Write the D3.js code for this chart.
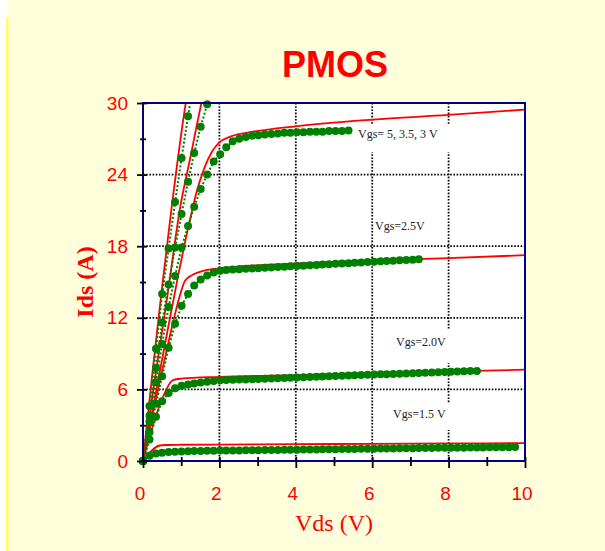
<!DOCTYPE html>
<html>
<head>
<meta charset="utf-8">
<script src="https://cdn.jsdelivr.net/npm/d3@7"></script>
<style>
  body { margin: 0; background: #fff; }
  svg { display: block; }
</style>
</head>
<body>
<svg id="chart"></svg>
<script>
// measured Vds steps (V)
const vds = [0, 0.17, 0.34, 0.50, 0.67, 0.84, 1.01, 1.18, 1.34, 1.51, 1.68, 1.85, 2.02, 2.18, 2.35, 2.52, 2.69, 2.86, 3.02, 3.19,
             3.36, 3.53, 3.70, 3.86, 4.03, 4.20, 4.37, 4.54, 4.70, 4.87, 5.04, 5.21, 5.38, 5.54, 5.71, 5.88, 6.05, 6.22, 6.38, 6.55,
             6.72, 6.89, 7.06, 7.22, 7.39, 7.56, 7.73, 7.90, 8.06, 8.23, 8.40, 8.57, 8.74, 8.90, 9.07, 9.24, 9.41, 9.58, 9.74]

// measured Ids (A), one value per vds step
const meas5 = [0, 4.6, 9.4, 14.0, 17.8, 21.7, 25.4, 28.9, 32.2]
const meas35 = [0, 3.8, 7.8, 11.6, 14.8, 17.9, 20.7, 23.4, 25.8, 28.0, 29.9, 31.6]
const meas3 = [0, 3.3, 6.6, 9.8, 12.9, 15.5, 17.9, 19.7, 21.3, 22.8, 24.0, 25.1, 25.7, 26.3, 26.8, 27.0, 27.15, 27.25, 27.3, 27.35,
               27.4, 27.45, 27.5, 27.5, 27.55, 27.55, 27.6, 27.6, 27.6, 27.65, 27.65, 27.65, 27.7]
const meas25 = [0, 2.4, 4.8, 7.1, 9.5, 11.5, 13.0, 14.0, 14.7, 15.2, 15.55, 15.8, 15.95,
                16.00, 16.04, 16.07, 16.10, 16.13, 16.16, 16.19, 16.22, 16.25, 16.28,
                16.31, 16.34, 16.37, 16.40, 16.43, 16.46, 16.49, 16.52, 16.55, 16.58,
                16.61, 16.64, 16.67, 16.70, 16.73, 16.76, 16.79, 16.82, 16.85, 16.87, 16.90]
const meas20 = [0, 1.8, 3.7, 5.0, 5.7, 6.1, 6.3, 6.42, 6.5, 6.58, 6.64, 6.7, 6.76,
                6.78, 6.80, 6.82, 6.84, 6.86, 6.88, 6.90, 6.92, 6.94, 6.96,
                6.98, 7.00, 7.02, 7.04, 7.06, 7.08, 7.10, 7.12, 7.14, 7.16,
                7.18, 7.20, 7.22, 7.24, 7.26, 7.28, 7.30, 7.32, 7.34, 7.36,
                7.38, 7.40, 7.42, 7.44, 7.46, 7.48, 7.50, 7.52, 7.54, 7.55]
const meas15 = [0, 0.45, 0.62, 0.70, 0.75, 0.78, 0.80, 0.82, 0.83, 0.84, 0.85, 0.86, 0.87,
                0.88, 0.88, 0.89, 0.90, 0.90, 0.91, 0.92, 0.92, 0.93, 0.94,
                0.94, 0.95, 0.96, 0.96, 0.97, 0.98, 0.98, 0.99, 1.00, 1.00,
                1.01, 1.02, 1.02, 1.03, 1.04, 1.04, 1.05, 1.06, 1.06, 1.07,
                1.08, 1.08, 1.09, 1.10, 1.10, 1.11, 1.12, 1.12, 1.13, 1.14,
                1.14, 1.15, 1.15, 1.16, 1.16, 1.17]

// simulated curves [Vds, Ids]
const model5 = [[0, 0], [0.25, 7.5], [0.49, 14.3], [0.74, 21], [1.12, 30], [1.2, 31.5]]
const model35 = [[0, 0], [0.3, 6.6], [0.66, 14.3], [0.96, 21], [1.25, 25.6], [1.53, 30], [1.6, 31]]
const model3 = [[0, 0], [0.3, 5.1], [0.6, 10.2], [0.9, 15.2], [1.2, 19.8], [1.4, 22.5], [1.6, 24.5], [1.8, 25.9],
                [2.0, 26.7], [2.3, 27.2], [2.8, 27.55], [4, 28.05], [6, 28.6], [8, 29.0], [10, 29.45]]
const model25 = [[0, 0], [0.2, 3.1], [0.4, 6.1], [0.6, 9.0], [0.8, 11.8], [0.95, 13.7], [1.1, 15.1], [1.3, 15.6],
                 [1.6, 15.95], [2, 16.15], [2.5, 16.3], [3, 16.4], [4, 16.55], [6, 16.8], [8, 17.0], [10, 17.25]]
const model20 = [[0, 0], [0.15, 1.8], [0.3, 3.4], [0.45, 4.8], [0.6, 5.9], [0.72, 6.6], [0.8, 6.8], [1, 6.9],
                 [2, 7.05], [4, 7.2], [6, 7.35], [8, 7.5], [10, 7.65]]
const model15 = [[0, 0], [0.44, 1.3], [0.6, 1.34], [1, 1.36], [2, 1.38], [4, 1.41], [6, 1.44], [8, 1.47], [10, 1.5]]

const xTicks = [0, 2, 4, 6, 8, 10]
const xMinor = [1, 3, 5, 7, 9]
const yTicks = [0, 6, 12, 18, 24, 30]
const yMinor = [3, 9, 15, 21, 27]

const labels = [
  {text: 'Vgs= 5, 3.5, 3 V', x: 358, y: 138, box: [352, 125, 103, 27]},
  {text: 'Vgs=2.5V', x: 375, y: 230, box: null},
  {text: 'Vgs=2.0V', x: 396, y: 346, box: [390, 330, 63, 33]},
  {text: 'Vgs=1.5 V', x: 393, y: 418, box: [388, 403, 65, 27]}
]

const w = 605
const h = 551
const pL = 143, pR = 525, pT = 103, pB = 461

const sans = '"Liberation Sans", Arial, sans-serif'
const serif = '"Liberation Serif", "Times New Roman", serif'

let svg = d3.select('#chart').attr('width', w).attr('height', h)

// page background
svg.append('rect').attr('x', 8).attr('y', 0).attr('width', w - 8).attr('height', h).attr('fill', '#ffffdc')
svg.append('rect').attr('x', 6).attr('y', 17).attr('width', 2.5).attr('height', h - 17).attr('fill', '#ffff66')

svg.append('text')
   .attr('x', 335).attr('y', 77)
   .attr('text-anchor', 'middle')
   .style('font-family', sans).style('font-weight', 'bold').style('font-size', '36px')
   .attr('fill', '#ff0000')
   .text('PMOS')

let x = d3.scaleLinear().domain([0, 10]).range([pL, pR])
let y = d3.scaleLinear().domain([0, 30]).range([pB, pT])

svg.append('rect')
   .attr('x', pL).attr('y', pT).attr('width', pR - pL).attr('height', pB - pT)
   .attr('fill', '#fff')

svg.append('clipPath').attr('id', 'clip')
   .append('rect').attr('x', pL).attr('y', pT).attr('width', pR - pL).attr('height', pB - pT)

// dotted grid
let grid = svg.append('g').attr('stroke', '#000').attr('stroke-width', 1.8).attr('stroke-dasharray', '1.6,1.6')
grid.selectAll('.gx').data([2, 4, 6, 8]).enter().append('line')
    .attr('x1', d => x(d)).attr('x2', d => x(d)).attr('y1', pT).attr('y2', pB)
grid.selectAll('.gy').data([6, 12, 18, 24]).enter().append('line')
    .attr('y1', d => y(d)).attr('y2', d => y(d)).attr('x1', pL).attr('x2', pR)

// label backgrounds hide the grid behind them
svg.selectAll('.lbox').data(labels.filter(d => d.box)).enter().append('rect')
   .attr('x', d => d.box[0]).attr('y', d => d.box[1]).attr('width', d => d.box[2]).attr('height', d => d.box[3])
   .attr('fill', '#fff')

let plot = svg.append('g').attr('clip-path', 'url(#clip)')

let redLine = d3.line().x(d => x(d[0])).y(d => y(d[1])).curve(d3.curveMonotoneX)
let models = [model15, model20, model25, model3, model35, model5]
plot.selectAll('.model').data(models).enter().append('path')
    .attr('d', redLine)
    .attr('fill', 'none').attr('stroke', '#ff0000').attr('stroke-width', 1.8)

let measures = [meas15, meas20, meas25, meas3, meas35, meas5].map(arr => arr.map((v, i) => [vds[i], v]))
let greenLine = d3.line().x(d => x(d[0])).y(d => y(d[1]))
plot.selectAll('.meas').data(measures).enter().append('path')
    .attr('d', greenLine)
    .attr('fill', 'none').attr('stroke', '#008000').attr('stroke-width', 2).attr('stroke-dasharray', '2,2')

let dots = svg.append('g')
measures.forEach(series => {
  dots.selectAll(null).data(series.filter(d => d[1] <= 30)).enter().append('circle')
      .attr('cx', d => x(d[0])).attr('cy', d => y(d[1])).attr('r', 4)
      .attr('fill', '#008000')
})

svg.selectAll('.lbl').data(labels).enter().append('text')
   .attr('x', d => d.x).attr('y', d => d.y)
   .style('font-family', serif).style('font-size', '12px')
   .attr('fill', '#222')
   .text(d => d.text)

// frame
svg.append('rect')
   .attr('x', pL).attr('y', pT).attr('width', pR - pL).attr('height', pB - pT)
   .attr('fill', 'none').attr('stroke', '#000080').attr('stroke-width', 2)

// axes
let xAxis = d3.axisBottom(x).tickValues(xTicks).tickSize(7).tickPadding(19).tickFormat(d3.format('d'))
let gx = svg.append('g').attr('transform', 'translate(0,' + pB + ')').call(xAxis)
gx.select('.domain').remove()
gx.selectAll('line').attr('y1', -4).attr('stroke', '#000').attr('stroke-width', 1.8)
gx.selectAll('text').attr('dx', -3.5).attr('fill', '#ff0000').style('font-family', sans).style('font-size', '19px')

let gxm = svg.append('g').attr('transform', 'translate(0,' + pB + ')')
             .call(d3.axisBottom(x).tickValues(xMinor).tickSize(5).tickFormat(''))
gxm.select('.domain').remove()
gxm.selectAll('line').attr('y1', -4).attr('stroke', '#000').attr('stroke-width', 1.8)

let yAxis = d3.axisLeft(y).tickValues(yTicks).tickSize(6).tickPadding(9).tickFormat(d3.format('d'))
let gy = svg.append('g').attr('transform', 'translate(' + pL + ',0)').call(yAxis)
gy.select('.domain').remove()
gy.selectAll('line').attr('x1', 4).attr('stroke', '#000').attr('stroke-width', 1.8)
gy.selectAll('text').attr('fill', '#ff0000').style('font-family', sans).style('font-size', '19px')

let gym = svg.append('g').attr('transform', 'translate(' + pL + ',0)')
             .call(d3.axisLeft(y).tickValues(yMinor).tickSize(3).tickFormat(''))
gym.select('.domain').remove()
gym.selectAll('line').attr('x1', 3).attr('stroke', '#000').attr('stroke-width', 1.8)

svg.append('text')
   .attr('x', (pL + pR) / 2).attr('y', 531)
   .attr('text-anchor', 'middle')
   .style('font-family', serif).style('font-size', '24px')
   .attr('fill', '#ff0000')
   .text('Vds (V)')

svg.append('text')
   .attr('transform', 'translate(93,' + ((pT + pB) / 2) + ') rotate(-90)')
   .attr('text-anchor', 'middle')
   .style('font-family', serif).style('font-weight', 'bold').style('font-size', '24px')
   .attr('fill', '#ff0000')
   .text('Ids (A)')
</script>
</body>
</html>
